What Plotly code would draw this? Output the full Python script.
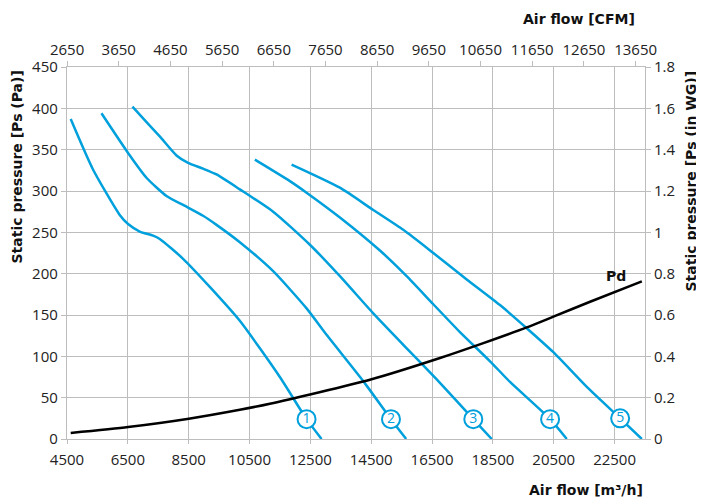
import plotly.graph_objects as go

# ── Fan curves: air flow [m3/h] vs static pressure [Pa] ─────────────────────
curve1_q = [4622, 5355, 6234, 6507, 6891, 7329, 7549, 8316, 9194, 10181, 11497, 12375, 12868]
curve1_p = [387, 326, 271, 260, 251, 246, 242, 218, 184, 143, 75, 24, 0]

curve2_q = [5632, 6507, 7112, 7770, 8480, 8974, 9415, 10181, 11277, 12375, 13033, 14238, 15150, 15650]
curve2_p = [394, 346, 316, 294, 280, 270, 259, 238, 203, 158, 126, 70, 24, 0]

curve3_q = [6651, 7100, 7549, 8099, 8480, 8974, 9415, 10181, 11277, 12485, 13471, 14567, 15554, 16653, 17856, 18462]
curve3_p = [402, 384, 366, 343, 334, 327, 320, 302, 275, 235, 197, 152, 114, 72, 24, 0]

curve4_q = [10675, 11827, 12375, 13471, 14787, 15665, 16541, 17400, 18407, 19063, 20380, 20929]
curve4_p = [338, 312, 298, 268, 228, 197, 163, 130, 94, 69, 24, 0]

curve5_q = [11882, 13471, 14567, 15554, 16541, 17640, 18734, 19613, 20488, 21587, 22683, 23396]
curve5_p = [332, 304, 277, 253, 225, 193, 162, 134, 105, 63, 25, 0]

# dynamic pressure line
pd_q = [4622, 6507, 8504, 10181, 11168, 14458, 16761, 18186, 19613, 20488, 21695, 23396]
pd_p = [7.3, 14.5, 24.6, 35.4, 42.7, 71.7, 98, 116, 135, 148, 166, 190.6]

# numbered markers sitting on each curve
label_names = ["1", "2", "3", "4", "5"]
label_q = [12375, 15150, 17856, 20380, 22683]
label_p = [24, 24, 24, 24, 25]

x_ticks = list(range(4500, 22501, 2000))
cfm_ticks = list(range(2650, 13651, 1000))
pa_ticks = list(range(0, 451, 50))
inwg_ticks = [0, 0.2, 0.4, 0.6, 0.8, 1, 1.2, 1.4, 1.6, 1.8]

M3H_PER_CFM = 1.699
X_RANGE = [4500, 23500]

BLUE = "#00a0dc"
GRID = "#bdbdbd"
FONT = "Open Sans"
TITLE_FONT = dict(family="DejaVu Sans", size=14, color="#111111")

fig = go.Figure()

curves = [
    (curve1_q, curve1_p), (curve2_q, curve2_p), (curve3_q, curve3_p),
    (curve4_q, curve4_p), (curve5_q, curve5_p),
]
for q, p in curves:
    fig.add_trace(go.Scatter(
        x=q, y=p, mode="lines",
        line=dict(color=BLUE, width=2.5, shape="spline", smoothing=0.6),
        showlegend=False, hoverinfo="skip",
    ))

fig.add_trace(go.Scatter(
    x=pd_q, y=pd_p, mode="lines",
    line=dict(color="black", width=2.5, shape="spline", smoothing=0.6),
    showlegend=False, hoverinfo="skip",
))

fig.add_trace(go.Scatter(
    x=label_q, y=label_p, mode="markers+text",
    text=label_names, textposition="middle center",
    textfont=dict(family=FONT, size=14, color=BLUE),
    marker=dict(size=18, color="white", line=dict(color=BLUE, width=2)),
    showlegend=False, hoverinfo="skip",
))

# invisible traces to pin the secondary axes
fig.add_trace(go.Scatter(x=[cfm_ticks[0]], y=[0], xaxis="x2", yaxis="y",
                         mode="markers", marker=dict(opacity=0), showlegend=False, hoverinfo="skip"))
fig.add_trace(go.Scatter(x=[X_RANGE[0]], y=[0], xaxis="x", yaxis="y2",
                         mode="markers", marker=dict(opacity=0), showlegend=False, hoverinfo="skip"))

tick_font = dict(family=FONT, size=15, color="#222222")

# page body adds an 8px offset, so margins are shifted to compensate
fig.update_layout(
    width=704, height=503,
    margin=dict(l=59, r=67, t=59, b=72),
    paper_bgcolor="white", plot_bgcolor="white",
    font=dict(family=FONT, size=15, color="#222222"),
    xaxis=dict(
        range=X_RANGE, tickvals=x_ticks, ticktext=[str(v) for v in x_ticks],
        showgrid=True, gridcolor=GRID, gridwidth=1.3,
        showline=True, linecolor=GRID, linewidth=1.3, mirror=True, automargin=False,
        ticks="outside", ticklen=4, tickcolor=GRID, tickfont=tick_font, zeroline=False,
        ticklabelstandoff=3,
    ),
    xaxis2=dict(
        range=[X_RANGE[0] / M3H_PER_CFM, X_RANGE[1] / M3H_PER_CFM],
        overlaying="x", side="top", anchor="y", automargin=False,
        tickvals=cfm_ticks, ticktext=[str(v) for v in cfm_ticks],
        showgrid=False, showline=False,
        ticks="outside", ticklen=5, tickcolor=GRID, tickfont=tick_font, zeroline=False,
    ),
    yaxis=dict(
        range=[0, 450], tickvals=pa_ticks, ticktext=[str(v) for v in pa_ticks],
        showgrid=True, gridcolor=GRID, gridwidth=1.3,
        showline=True, linecolor=GRID, linewidth=1.3, mirror=True, automargin=False,
        ticks="outside", ticklen=5, tickcolor=GRID, tickfont=tick_font, zeroline=False,
    ),
    yaxis2=dict(
        range=[0, 1.8], overlaying="y", side="right", anchor="x", automargin=False,
        tickvals=inwg_ticks, ticktext=[f"{v:g}" for v in inwg_ticks],
        showgrid=False, showline=False,
        ticks="outside", ticklen=5, tickcolor=GRID, tickfont=tick_font, zeroline=False,
    ),
    annotations=[
        dict(text="<b>Air flow [CFM]</b>", xref="paper", yref="paper", x=0.987, y=1.0,
             xanchor="right", yanchor="middle", yshift=48, showarrow=False, font=TITLE_FONT),
        dict(text="<b>Air flow [m³/h]</b>", xref="paper", yref="paper", x=1.0, y=0.0,
             xanchor="right", yanchor="middle", yshift=-51, showarrow=False, font=TITLE_FONT),
        dict(text="<b>Static pressure [Ps (Pa)]</b>", xref="paper", yref="paper", x=0.0, y=1.0,
             xanchor="center", yanchor="top", xshift=-51, yshift=-2, textangle=-90,
             showarrow=False, font=TITLE_FONT),
        dict(text="<b>Static pressure [Ps (in WG)]</b>", xref="paper", yref="paper", x=1.0, y=1.0,
             xanchor="center", yanchor="top", xshift=45, yshift=-2, textangle=-90,
             showarrow=False, font=TITLE_FONT),
        dict(text="<b>Pd</b>", x=22551, y=197, xref="x", yref="y", showarrow=False,
             xanchor="center", yanchor="middle", font=TITLE_FONT),
    ],
)

fig.write_html("out.html")
